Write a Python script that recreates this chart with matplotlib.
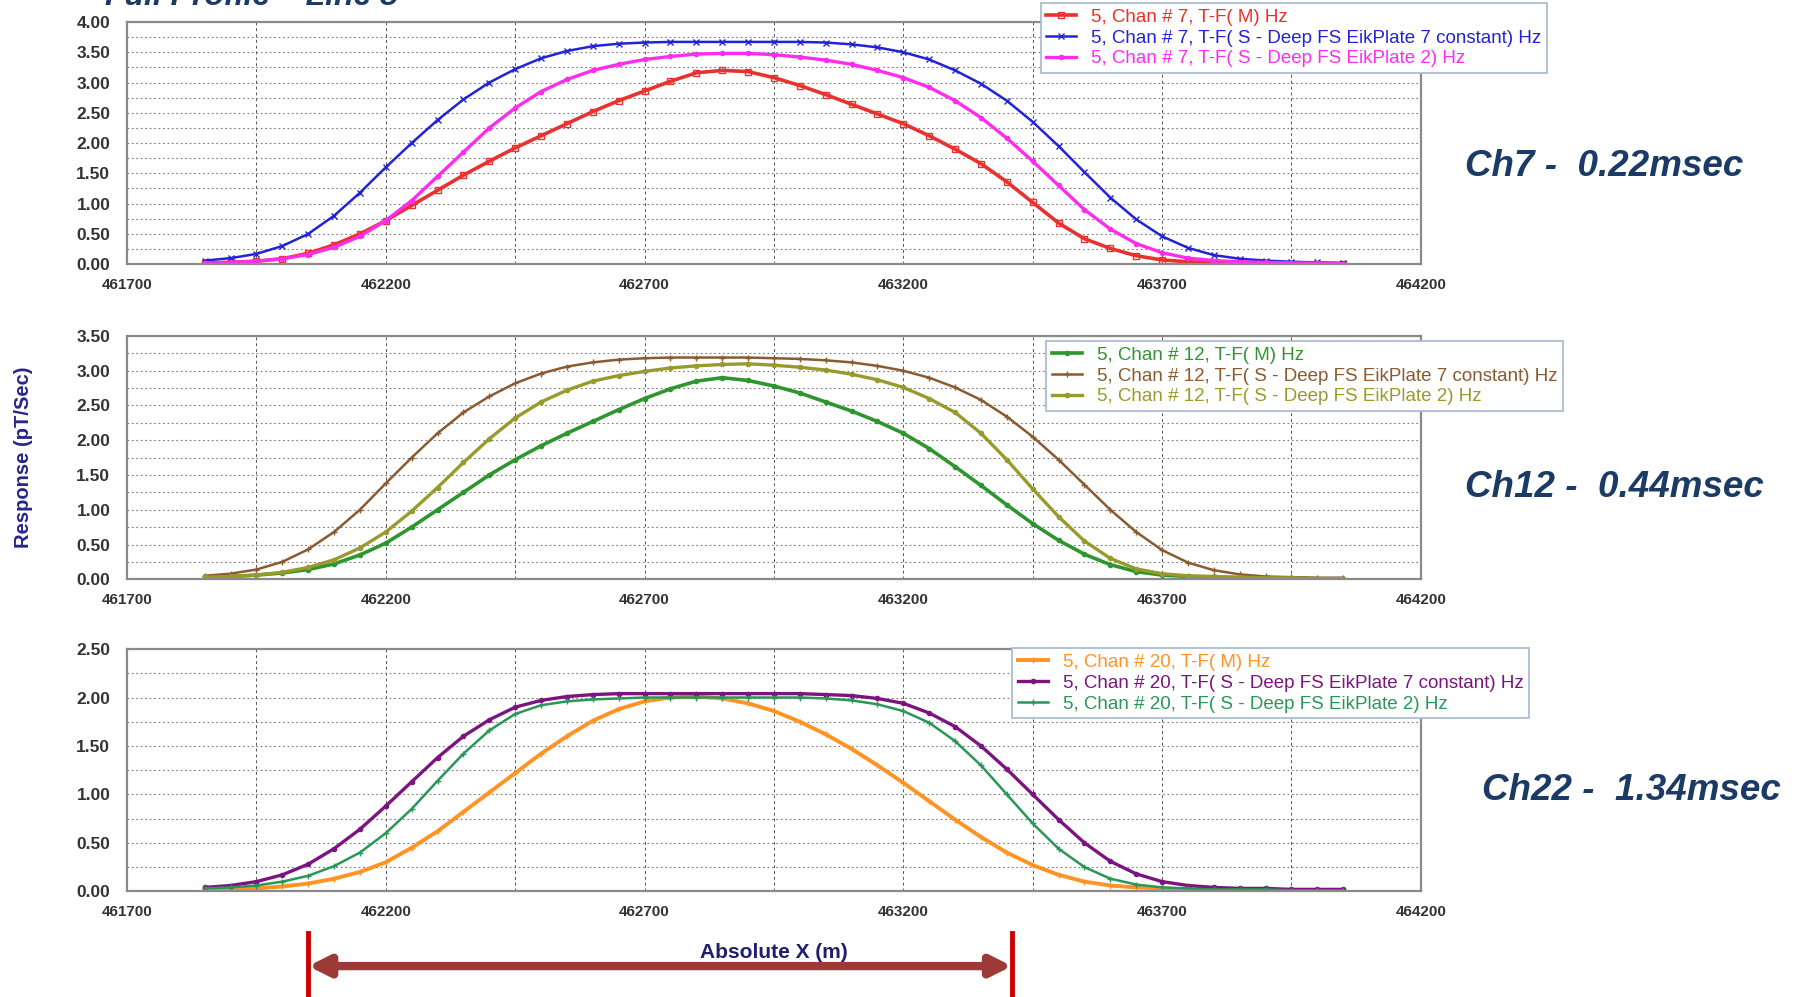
import matplotlib.pyplot as plt
from matplotlib.ticker import FormatStrFormatter
import matplotlib.transforms as mtransforms

plt.rcParams['font.family'] = ['Liberation Sans', 'DejaVu Sans']

# Posiciones X (m), cada 50 m
x_m = [461850, 461900, 461950, 462000, 462050, 462100, 462150, 462200, 462250,
       462300, 462350, 462400, 462450, 462500, 462550, 462600, 462650, 462700,
       462750, 462800, 462850, 462900, 462950, 463000, 463050, 463100, 463150,
       463200, 463250, 463300, 463350, 463400, 463450, 463500, 463550, 463600,
       463650, 463700, 463750, 463800, 463850, 463900, 463950, 464000, 464050]

# Canal 7
ch7_m = [0.02, 0.03, 0.05, 0.09, 0.18, 0.32, 0.50, 0.72, 0.97, 1.22, 1.47, 1.70,
         1.92, 2.12, 2.32, 2.52, 2.70, 2.86, 3.02, 3.16, 3.20, 3.18, 3.08, 2.95,
         2.80, 2.64, 2.48, 2.32, 2.12, 1.90, 1.66, 1.36, 1.02, 0.68, 0.42, 0.26,
         0.14, 0.07, 0.04, 0.03, 0.02, 0.02, 0.01, 0.01, 0.01]
ch7_p7 = [0.06, 0.10, 0.17, 0.30, 0.50, 0.80, 1.18, 1.60, 2.00, 2.38, 2.72, 3.00,
          3.22, 3.40, 3.52, 3.60, 3.64, 3.66, 3.67, 3.67, 3.67, 3.67, 3.67, 3.67,
          3.66, 3.63, 3.58, 3.50, 3.38, 3.20, 2.98, 2.70, 2.35, 1.95, 1.52, 1.10,
          0.74, 0.46, 0.27, 0.15, 0.09, 0.06, 0.04, 0.03, 0.02]
ch7_p2 = [0.02, 0.03, 0.05, 0.09, 0.16, 0.28, 0.46, 0.72, 1.05, 1.45, 1.85, 2.25,
          2.58, 2.85, 3.05, 3.20, 3.30, 3.38, 3.43, 3.47, 3.48, 3.48, 3.46, 3.42,
          3.37, 3.30, 3.20, 3.08, 2.92, 2.70, 2.42, 2.08, 1.70, 1.30, 0.90, 0.58,
          0.34, 0.19, 0.10, 0.06, 0.04, 0.03, 0.02, 0.02, 0.01]

# Canal 12
ch12_m = [0.03, 0.04, 0.06, 0.09, 0.14, 0.22, 0.35, 0.52, 0.75, 1.00, 1.25, 1.50,
          1.72, 1.92, 2.10, 2.27, 2.44, 2.60, 2.74, 2.85, 2.90, 2.86, 2.78, 2.68,
          2.55, 2.42, 2.27, 2.10, 1.88, 1.62, 1.35, 1.07, 0.80, 0.56, 0.36, 0.21,
          0.11, 0.06, 0.04, 0.03, 0.02, 0.02, 0.02, 0.01, 0.01]
ch12_p7 = [0.05, 0.08, 0.14, 0.25, 0.43, 0.68, 1.00, 1.38, 1.75, 2.10, 2.40, 2.63,
           2.82, 2.96, 3.06, 3.12, 3.16, 3.18, 3.19, 3.19, 3.19, 3.19, 3.18, 3.17,
           3.15, 3.12, 3.07, 3.00, 2.90, 2.76, 2.58, 2.34, 2.05, 1.72, 1.36, 1.00,
           0.68, 0.42, 0.24, 0.13, 0.07, 0.04, 0.03, 0.02, 0.02]
ch12_p2 = [0.03, 0.04, 0.06, 0.10, 0.17, 0.28, 0.45, 0.68, 0.98, 1.32, 1.68, 2.02,
           2.32, 2.55, 2.72, 2.85, 2.93, 2.99, 3.04, 3.07, 3.09, 3.10, 3.08, 3.05,
           3.01, 2.95, 2.87, 2.76, 2.60, 2.40, 2.10, 1.72, 1.30, 0.90, 0.55, 0.30,
           0.15, 0.08, 0.05, 0.04, 0.03, 0.02, 0.02, 0.01, 0.01]

# Canal 20
ch20_m = [0.02, 0.02, 0.03, 0.05, 0.08, 0.13, 0.20, 0.30, 0.45, 0.62, 0.82, 1.02,
          1.22, 1.42, 1.60, 1.76, 1.88, 1.96, 2.00, 2.01, 1.99, 1.94, 1.86, 1.75,
          1.62, 1.47, 1.30, 1.12, 0.93, 0.74, 0.56, 0.40, 0.27, 0.17, 0.10, 0.06,
          0.04, 0.03, 0.02, 0.02, 0.01, 0.01, 0.01, 0.01, 0.01]
ch20_p7 = [0.04, 0.06, 0.10, 0.17, 0.28, 0.44, 0.64, 0.88, 1.13, 1.38, 1.60, 1.77,
           1.90, 1.97, 2.01, 2.03, 2.04, 2.04, 2.04, 2.04, 2.04, 2.04, 2.04, 2.04,
           2.03, 2.02, 1.99, 1.94, 1.84, 1.70, 1.50, 1.26, 1.00, 0.74, 0.50, 0.31,
           0.18, 0.10, 0.06, 0.04, 0.03, 0.03, 0.02, 0.02, 0.02]
ch20_p2 = [0.03, 0.04, 0.06, 0.10, 0.16, 0.26, 0.40, 0.60, 0.85, 1.14, 1.42, 1.66,
           1.83, 1.92, 1.96, 1.98, 1.99, 2.00, 2.00, 2.00, 2.00, 2.00, 2.00, 2.00,
           1.99, 1.97, 1.93, 1.86, 1.74, 1.55, 1.30, 1.00, 0.70, 0.44, 0.25, 0.13,
           0.07, 0.04, 0.03, 0.02, 0.02, 0.02, 0.01, 0.01, 0.01]

x_ticks = [461700, 462200, 462700, 463200, 463700, 464200]
x_minor = [461950, 462450, 462950, 463450, 463950]
ymax_panel = [4.0, 3.5, 2.5]
ch_labels = ['Ch7 -  0.22msec', 'Ch12 -  0.44msec', 'Ch22 -  1.34msec']
arrow_x = [462050, 463410]

paneles = [
    [('5, Chan # 7, T-F( M) Hz', ch7_m, '#e8322f', 's', 'none', 4, 2.6),
     ('5, Chan # 7, T-F( S - Deep FS EikPlate 7 constant) Hz', ch7_p7, '#2323d6', 'x', None, 4, 1.8),
     ('5, Chan # 7, T-F( S - Deep FS EikPlate 2) Hz', ch7_p2, '#ff2cf0', 'o', None, 3, 2.4)],
    [('5, Chan # 12, T-F( M) Hz', ch12_m, '#2e962e', 'o', None, 3, 2.6),
     ('5, Chan # 12, T-F( S - Deep FS EikPlate 7 constant) Hz', ch12_p7, '#8a5a30', '+', None, 5, 1.8),
     ('5, Chan # 12, T-F( S - Deep FS EikPlate 2) Hz', ch12_p2, '#999a2c', 'o', None, 3, 2.4)],
    [('5, Chan # 20, T-F( M) Hz', ch20_m, '#ff9424', '+', None, 5, 2.8),
     ('5, Chan # 20, T-F( S - Deep FS EikPlate 7 constant) Hz', ch20_p7, '#7c1480', 'o', None, 3, 2.4),
     ('5, Chan # 20, T-F( S - Deep FS EikPlate 2) Hz', ch20_p2, '#2a9658', '+', None, 5, 1.8)],
]

fig = plt.figure(figsize=(18.07, 9.97), dpi=100)

# Posiciones de los ejes (fracciones de figura)
ax_rects = [(0.0703, 0.735, 0.716, 0.243),
            (0.0703, 0.419, 0.716, 0.244),
            (0.0703, 0.106, 0.716, 0.243)]
leg_anchor = [(0.576, 0.997), (0.579, 0.658), (0.560, 0.350)]
lab_pos = [(0.811, 0.833), (0.811, 0.511), (0.820, 0.207)]

axes = []
for i, series in enumerate(paneles):
    ax = fig.add_axes(ax_rects[i])
    axes.append(ax)
    for label, ys, col, mk, mfc, ms, lw in series:
        ax.plot(x_m, ys, color=col, marker=mk, markersize=ms, linewidth=lw,
                markerfacecolor=mfc if mfc else col, markeredgewidth=1.0, label=label)
    ax.set_xlim(461700, 464200)
    ax.set_ylim(0, ymax_panel[i])
    ax.set_xticks(x_ticks)
    ax.set_xticks(x_minor, minor=True)
    ax.set_yticks([k * 0.5 for k in range(int(ymax_panel[i] * 2) + 1)])
    ax.set_yticks([k * 0.5 + 0.25 for k in range(int(ymax_panel[i] * 2))], minor=True)
    ax.yaxis.set_major_formatter(FormatStrFormatter('%.2f'))
    ax.grid(True, which='both', axis='x', color='#555555', linestyle=(0, (3, 3)), linewidth=0.7)
    ax.grid(True, which='both', axis='y', color='#777777', linestyle=(0, (1.5, 2.5)), linewidth=0.8)
    ax.tick_params(axis='both', which='both', length=0, labelcolor='#333333')
    ax.tick_params(axis='y', pad=12, labelsize=12.5)
    ax.tick_params(axis='x', pad=10, labelsize=11)
    for lbl in ax.get_xticklabels() + ax.get_yticklabels():
        lbl.set_fontweight('bold')
    for sp in ax.spines.values():
        sp.set_color('#8a8a8a')
        sp.set_linewidth(1.6)
    leg = ax.legend(loc='upper left', bbox_to_anchor=leg_anchor[i], bbox_transform=fig.transFigure,
                    fontsize=13.5, labelcolor='linecolor', fancybox=False, framealpha=1,
                    edgecolor='#a9bdd0', handlelength=1.6, handletextpad=0.8,
                    labelspacing=0.2, borderpad=0.3, borderaxespad=0)
    leg.get_frame().set_linewidth(1.3)
    fig.text(lab_pos[i][0], lab_pos[i][1], ch_labels[i], fontsize=26.5, fontweight='bold',
             fontstyle='italic', color='#1b3a66', va='center', ha='left')

# Titulo cortado arriba (como en el original)
fig.text(0.058, 0.995, 'Full Profile \u2013 Line 5', fontsize=23, fontweight='bold',
         fontstyle='italic', color='#1b3a66', va='baseline', ha='left')

fig.text(0.013, 0.541, 'Response (pT/Sec)', rotation=90, fontsize=14.5, fontweight='bold',
         color='#26268c', va='center', ha='center')
fig.text(0.428, 0.045, 'Absolute X (m)', fontsize=15, fontweight='bold',
         color='#1f1f70', va='center', ha='center')

# Flecha del rango anomalo
trans = mtransforms.blended_transform_factory(axes[2].transData, fig.transFigure)
ax_b = axes[2]
ax_b.annotate('', xy=(arrow_x[0], 0.031), xytext=(arrow_x[1], 0.031),
              xycoords=trans, textcoords=trans, annotation_clip=False,
              arrowprops=dict(arrowstyle='<|-|>', color='#9b3a36', lw=6, mutation_scale=30,
                              shrinkA=0, shrinkB=0))
for xv in arrow_x:
    ax_b.plot([xv, xv], [0.0, 0.064], transform=trans, color='#cc0000', lw=3.5, clip_on=False)

fig.savefig('out.png', dpi=100)
